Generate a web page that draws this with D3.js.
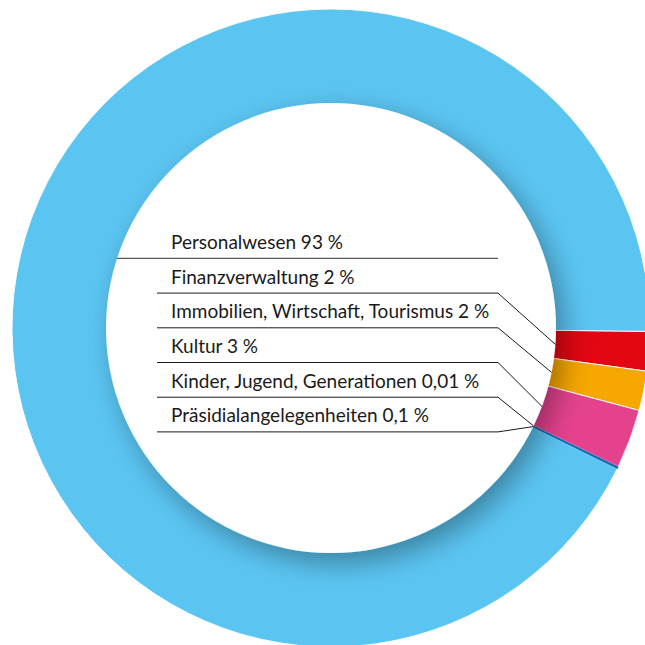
<!DOCTYPE html>
<html>
<head>
<meta charset="utf-8">
<script src="https://cdn.jsdelivr.net/npm/d3@7"></script>
<style>
  html, body { margin: 0; padding: 0; background: #ffffff; }
  svg { display: block; }
</style>
</head>
<body>
<svg id="chart" width="645" height="645"></svg>
<script>
// Budget shares by department (percent)
const categories = [
  "Personalwesen",
  "Finanzverwaltung",
  "Immobilien, Wirtschaft, Tourismus",
  "Kultur",
  "Kinder, Jugend, Generationen",
  "Präsidialangelegenheiten"
];
const shares = [93, 2, 2, 3, 0.01, 0.1];
const shareLabels = ["93", "2", "2", "3", "0,01", "0,1"];
const colors = ["#5bc5f2", "#e30613", "#f6a700", "#e5428e", "#9a4d9e", "#0068b3"];

// Clockwise order around the ring, starting just below three o'clock
const ringOrder = [1, 2, 3, 4, 5, 0];

const cx = 331, cy = 328;
const outerR = 319, innerR = 225;
const startDeg = 90.6;

const svg = d3.select("#chart");
const defs = svg.append("defs");

// Soft shadow cast by the white centre disc onto the ring
const f = defs.append("filter").attr("id", "discShadow")
  .attr("x", "-30%").attr("y", "-30%").attr("width", "160%").attr("height", "160%");
f.append("feGaussianBlur").attr("in", "SourceAlpha").attr("stdDeviation", 14).attr("result", "blur");
f.append("feOffset").attr("in", "blur").attr("dx", 8).attr("dy", 10).attr("result", "off");
f.append("feFlood").attr("flood-color", "#000000").attr("flood-opacity", 0.34).attr("result", "col");
f.append("feComposite").attr("in", "col").attr("in2", "off").attr("operator", "in").attr("result", "shadow");
const fm = f.append("feMerge");
fm.append("feMergeNode").attr("in", "shadow");
fm.append("feMergeNode").attr("in", "SourceGraphic");

const g = svg.append("g").attr("transform", `translate(${cx},${cy})`);

const start = startDeg * Math.PI / 180;
const pie = d3.pie()
  .sort(null)
  .value(i => shares[i])
  .startAngle(start)
  .endAngle(start + 2 * Math.PI);
const arcs = pie(ringOrder);

const arc = d3.arc().innerRadius(innerR - 4).outerRadius(outerR);

// Very small shares are drawn last and without the white separator,
// so the separators of their neighbours do not hide them
const isTiny = d => (d.endAngle - d.startAngle) < 0.01;
const ordered = arcs.filter(d => !isTiny(d)).concat(arcs.filter(isTiny));

g.selectAll("path.slice")
  .data(ordered)
  .join("path")
  .attr("class", "slice")
  .attr("d", arc)
  .attr("fill", d => colors[d.data])
  .attr("stroke", d => isTiny(d) ? colors[d.data] : "#ffffff")
  .attr("stroke-width", d => isTiny(d) ? 0.4 : 0.9)
  .attr("stroke-linejoin", "miter");

// White centre disc with its shadow
g.append("circle")
  .attr("r", innerR)
  .attr("fill", "#ffffff")
  .attr("filter", "url(#discShadow)");

// Labels and leader lines
const labelX = 171, lineStartX = 157, elbowX = 498;
const firstLineY = 258.4, rowStep = 34.7, baselineGap = 9.5;

const arcByIndex = {};
arcs.forEach(a => { arcByIndex[a.data] = a; });

const fontFamily = "Lato, 'Open Sans', sans-serif";

categories.forEach((name, i) => {
  const ly = firstLineY + i * rowStep;
  svg.append("text")
    .attr("x", labelX)
    .attr("y", ly - baselineGap)
    .attr("font-family", fontFamily)
    .attr("font-size", 19)
    .attr("fill", "#1a1a1a")
    .text(`${name} ${shareLabels[i]} %`);

  if (i === 0) {
    // Main share: rule runs from the disc's edge across to the elbow column
    const dy = ly - cy;
    const x0 = cx - Math.sqrt(innerR * innerR - dy * dy);
    svg.append("line")
      .attr("x1", x0).attr("y1", ly)
      .attr("x2", elbowX).attr("y2", ly)
      .attr("stroke", "#5a5a5a").attr("stroke-width", 1.2);
  } else {
    const a = arcByIndex[i];
    const mid = (a.startAngle + a.endAngle) / 2;
    const px = cx + innerR * Math.sin(mid);
    const py = cy - innerR * Math.cos(mid);
    svg.append("polyline")
      .attr("points", `${lineStartX},${ly} ${elbowX},${ly} ${px},${py}`)
      .attr("fill", "none")
      .attr("stroke", "#1a1a1a").attr("stroke-width", 1);
  }
});
</script>
</body>
</html>
